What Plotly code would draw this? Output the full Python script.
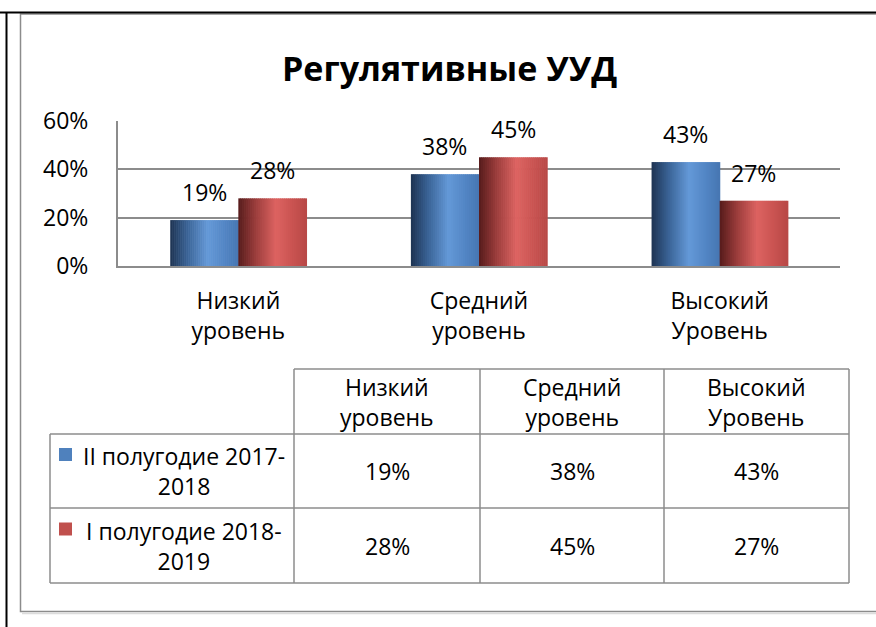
import plotly.graph_objects as go

# ---------------- data ----------------
categories = ["Низкий уровень", "Средний уровень", "Высокий Уровень"]
series_names = ["II полугодие 2017-2018", "I полугодие 2018-2019"]
series_2017 = [0.19, 0.38, 0.43]
series_2018 = [0.28, 0.45, 0.27]
y_ticks = [0, 0.2, 0.4, 0.6]
title_text = "Регулятивные УУД"

# ---------------- styling ----------------
W, H = 876, 627
FONT = "'Open Sans', 'Noto Sans', sans-serif"
FS = 23
GRID = "#8c8c8c"
base_colors = ["#4f81bd", "#c0504d"]
stops_blue = [(0.0, "#1d3352"), (0.25, "#3a6396"), (0.55, "#6499d8"), (0.8, "#5285c4"), (1.0, "#4676b2")]
stops_red = [(0.0, "#561b1b"), (0.25, "#9a3c3b"), (0.55, "#dd6361"), (0.8, "#c95351"), (1.0, "#b84846")]


def hex2rgb(h):
    h = h.lstrip("#")
    return [int(h[i:i + 2], 16) for i in (0, 2, 4)]


def sample(stops, t):
    for (t0, c0), (t1, c1) in zip(stops[:-1], stops[1:]):
        if t0 <= t <= t1:
            f = (t - t0) / (t1 - t0)
            a, b = hex2rgb(c0), hex2rgb(c1)
            return "rgb(%d,%d,%d)" % tuple(round(a[i] + (b[i] - a[i]) * f) for i in range(3))
    return stops[-1][1]


NSL = 34
gradients = [[sample(st, (k + 0.5) / NSL) for k in range(NSL)] for st in (stops_blue, stops_red)]


def px(x):
    return x / W


def py(y):
    return 1 - y / H


fig = go.Figure()

BW = 0.283  # bar width in category units
series_list = [series_2017, series_2018]
xs = list(range(len(categories)))
for s, (vals, grad) in enumerate(zip(series_list, gradients)):
    n = len(grad)
    base = -BW if s == 0 else 0.0
    for k, col in enumerate(grad):
        fig.add_trace(go.Bar(
            x=xs, y=vals,
            width=BW / n * 1.3,
            offset=base + k * BW / n,
            marker=dict(color=col, line=dict(width=0)),
            showlegend=False, hoverinfo="skip",
        ))

fig.update_layout(
    barmode="overlay",
    width=W, height=H,
    margin=dict(l=0, r=0, t=0, b=0, autoexpand=False),
    paper_bgcolor="white", plot_bgcolor="white",
    font=dict(family=FONT, size=FS, color="black"),
    showlegend=False,
    xaxis=dict(
        domain=[px(118), px(840)],
        range=[-0.5, 2.5],
        tickvals=xs,
        ticktext=[c.replace(" ", "<br>") for c in categories],
        showgrid=False, zeroline=False, automargin=False,
        showline=True, linecolor=GRID, linewidth=2,
        ticks="", ticklabelstandoff=13,
        tickfont=dict(size=FS),
    ),
    yaxis=dict(
        domain=[py(266), py(121)],
        range=[0, 0.6],
        tickvals=y_ticks,
        tickformat=".0%",
        showgrid=True, gridcolor=GRID, gridwidth=2,
        zeroline=False, automargin=False,
        showline=True, linecolor=GRID, linewidth=2,
        ticks="", ticklabelstandoff=23,
        tickfont=dict(size=FS),
    ),
)

annotations = []
# title
annotations.append(dict(text=f"<b>{title_text}</b>", x=px(449), y=py(68), xref="paper", yref="paper",
                        showarrow=False, font=dict(size=34, family=FONT), xanchor="center", yanchor="middle"))
# data labels
for s, vals in enumerate(series_list):
    dx = -BW / 2 if s == 0 else BW / 2
    for i, v in enumerate(vals):
        annotations.append(dict(text=f"{round(v*100)}%", x=i + dx, y=v, xref="x", yref="y",
                                showarrow=False, yanchor="bottom", yshift=10, font=dict(size=FS)))

# ---------------- data table ----------------
col_edges = [50, 294, 480, 664, 849]
row_edges = [369, 434, 508, 583]
shapes = []
line_style = dict(color=GRID, width=1.5)
shapes.append(dict(type="line", xref="paper", yref="paper", x0=px(col_edges[1]), x1=px(col_edges[-1]),
                   y0=py(row_edges[0]), y1=py(row_edges[0]), line=line_style))
for r in row_edges[1:]:
    shapes.append(dict(type="line", xref="paper", yref="paper", x0=px(col_edges[0]), x1=px(col_edges[-1]),
                       y0=py(r), y1=py(r), line=line_style))
shapes.append(dict(type="line", xref="paper", yref="paper", x0=px(col_edges[0]), x1=px(col_edges[0]),
                   y0=py(row_edges[1]), y1=py(row_edges[-1]), line=line_style))
for c in col_edges[1:]:
    shapes.append(dict(type="line", xref="paper", yref="paper", x0=px(c), x1=px(c),
                       y0=py(row_edges[0]), y1=py(row_edges[-1]), line=line_style))

# header texts
for j, cat in enumerate(categories):
    cx = (col_edges[j + 1] + col_edges[j + 2]) / 2
    cy = (row_edges[0] + row_edges[1]) / 2
    annotations.append(dict(text=cat.replace(" ", "<br>"), x=px(cx), y=py(cy), xref="paper", yref="paper",
                            showarrow=False, xanchor="center", yanchor="middle", font=dict(size=FS)))
# rows
for s, (name, vals) in enumerate(zip(series_names, series_list)):
    cy = (row_edges[s + 1] + row_edges[s + 2]) / 2
    label = name.replace("-", "-<br>", 1)
    annotations.append(dict(text=label, x=px(184), y=py(cy), xref="paper", yref="paper",
                            showarrow=False, xanchor="center", yanchor="middle", align="center",
                            font=dict(size=FS)))
    shapes.append(dict(type="rect", xref="paper", yref="paper", x0=px(59), x1=px(72),
                       y0=py(cy - 23), y1=py(cy - 10), fillcolor=base_colors[s], line=dict(width=0)))
    for j, v in enumerate(vals):
        cx = (col_edges[j + 1] + col_edges[j + 2]) / 2
        annotations.append(dict(text=f"{round(v*100)}%", x=px(cx), y=py(cy), xref="paper", yref="paper",
                                showarrow=False, xanchor="center", yanchor="middle", font=dict(size=FS)))

# ---------------- frames ----------------
shapes.append(dict(type="rect", xref="paper", yref="paper", x0=px(20.5), x1=px(890), y0=py(14), y1=py(611.5),
                   line=dict(color="#8c8c8c", width=1.5)))
shapes.append(dict(type="line", xref="paper", yref="paper", x0=px(22), x1=px(890), y0=py(613.5), y1=py(613.5),
                   line=dict(color="#dcdcdc", width=1.5)))
shapes.append(dict(type="line", xref="paper", yref="paper", x0=0, x1=1, y0=py(12.5), y1=py(12.5),
                   line=dict(color="black", width=2)))
shapes.append(dict(type="line", xref="paper", yref="paper", x0=px(6.5), x1=px(6.5), y0=py(12), y1=0,
                   line=dict(color="black", width=2)))

fig.update_layout(annotations=annotations, shapes=shapes)

fig.write_html("out.html", config={"displayModeBar": False},
               post_script="document.body.style.margin='0';document.body.style.overflow='hidden';")
